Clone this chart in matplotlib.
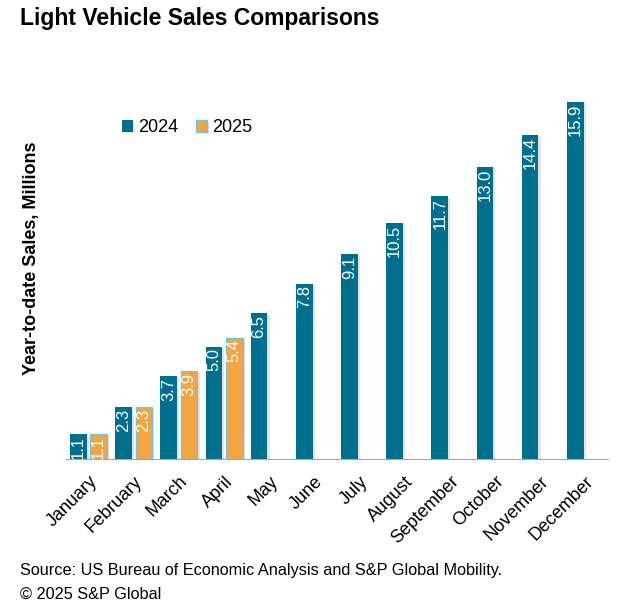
import matplotlib.pyplot as plt
import matplotlib.patheffects as pe
import numpy as np

plt.rcParams['font.family'] = ['Liberation Sans', 'DejaVu Sans']

months = ['January', 'February', 'March', 'April', 'May', 'June', 'July',
          'August', 'September', 'October', 'November', 'December']
sales_2024 = [1.1, 2.3, 3.7, 5.0, 6.5, 7.8, 9.1, 10.5, 11.7, 13.0, 14.4, 15.9]
sales_2025 = [1.1, 2.3, 3.9, 5.4]

teal = '#006f8e'
orange = '#f2a541'

fig = plt.figure(figsize=(6.19, 6.07), dpi=100)
ax = fig.add_axes([66/619, 148/607, 542/619, 372/607])

x = np.arange(len(months))
w = 0.37
shadow = [pe.SimplePatchShadow(offset=(1.5, -1.2), alpha=0.12), pe.Normal()]

b1 = ax.bar(x - 0.225, sales_2024, w, color=teal, label='2024', path_effects=shadow)
b2 = ax.bar(x[:len(sales_2025)] + 0.225, sales_2025, w, color=orange,
            edgecolor='#6ec3e6', linewidth=1, label='2025', path_effects=shadow)

# value labels inside the top of each bar
for bars, vals in [(b1, sales_2024), (b2, sales_2025)]:
    for b, v in zip(bars, vals):
        ax.annotate(f'{v:.1f}', (b.get_x() + b.get_width() / 2, v),
                    xytext=(0, -1.2), textcoords='offset points',
                    rotation=90, ha='center', va='top', color='white', fontsize=12)

ax.set_xlim(-0.5, len(months) - 0.5)
ax.set_ylim(0, 16.55)
ax.set_xticks(x)
ax.set_xticklabels(months, rotation=45, ha='right', va='top',
                   rotation_mode='anchor', fontsize=13)
ax.tick_params(axis='x', length=0, pad=10)
ax.set_yticks([])
for s in ['top', 'right', 'left']:
    ax.spines[s].set_visible(False)
ax.spines['bottom'].set_color('#a6a6a6')

ax.legend(loc='center left', bbox_to_anchor=(0.103, 0.89), ncol=2, frameon=False,
          fontsize=13, handlelength=0.6, handleheight=0.6, handletextpad=0.3,
          columnspacing=1.0, borderaxespad=0, borderpad=0)

fig.text(32/619, 1 - 258/607, 'Year-to-date Sales, Millions', rotation=90,
         ha='center', va='center', fontsize=13, fontweight='bold')
fig.text(20/619, 1 - 18/607, 'Light Vehicle Sales Comparisons', ha='left', va='center',
         fontsize=16.5, fontweight='bold')
fig.text(20/619, 1 - 570/607, 'Source: US Bureau of Economic Analysis and S&P Global Mobility.',
         ha='left', va='center', fontsize=11.7)
fig.text(20/619, 1 - 594/607, '\u00a9 2025 S&P Global', ha='left', va='center', fontsize=11.7)

fig.savefig('out.png', dpi=100)
